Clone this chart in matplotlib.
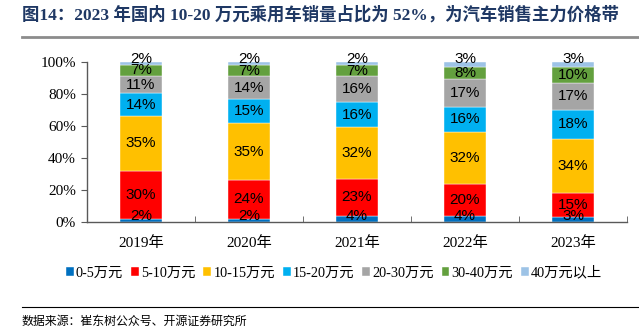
import matplotlib
matplotlib.use("Agg")
import matplotlib.pyplot as plt
import numpy as np

years = ["2019年", "2020年", "2021年", "2022年", "2023年"]
segments = ["0-5万元", "5-10万元", "10-15万元", "15-20万元", "20-30万元", "30-40万元", "40万元以上"]
share_0_5 = [2, 2, 4, 4, 3]
share_5_10 = [30, 24, 23, 20, 15]
share_10_15 = [35, 35, 32, 32, 34]
share_15_20 = [14, 15, 16, 16, 18]
share_20_30 = [11, 14, 16, 17, 17]
share_30_40 = [7, 7, 7, 8, 10]
share_40_up = [2, 2, 2, 3, 3]

colors = ["#0070C0", "#FF0000", "#FFC000", "#00B0F0", "#A5A5A5", "#63A03E", "#9DC3E6"]

serif = ["Liberation Serif", "Noto Sans CJK SC"]

data = np.array([share_0_5, share_5_10, share_10_15, share_15_20,
                 share_20_30, share_30_40, share_40_up], dtype=float)
# bars are drawn as a 100% stack
heights = data / data.sum(axis=0) * 100

fig = plt.figure(figsize=(6.39, 3.32), dpi=100)
ax = fig.add_axes([87 / 639, 1 - 222 / 332, 540 / 639, 160.3 / 332])

x = np.arange(len(years))
bottom = np.zeros(len(years))
handles = []
n = len(segments)
for i, seg in enumerate(segments):
    b = ax.bar(x, heights[i], 0.39, bottom=bottom, color=colors[i],
               edgecolor="white", linewidth=0.3, label=seg, zorder=2)
    handles.append(b)
    for j in range(len(years)):
        cy = bottom[j] + heights[i][j] / 2
        if i == 0:
            cy = max(cy, 4.0)
        if i == n - 1:
            cy = max(cy, 101.5)
        ax.text(x[j], cy, f"{int(data[i][j])}%", ha="center", va="center",
                fontsize=11, family="Liberation Sans", color="black",
                clip_on=False, zorder=3)
    bottom += heights[i]

ax.set_xlim(-0.5, len(years) - 0.5)
ax.set_ylim(0, 100)
ax.set_yticks(np.arange(0, 101, 20))
ax.set_yticklabels([f"{v}%" for v in range(0, 101, 20)])
ax.set_xticks(x)
ax.set_xticklabels(years)
ax.set_xticks(np.arange(-0.5, len(years), 1), minor=True)
ax.tick_params(axis="x", which="major", length=0, pad=10)
ax.tick_params(axis="x", which="minor", direction="in", length=4, color="#595959")
ax.tick_params(axis="y", direction="out", length=4, color="#595959", pad=4)
for lab in ax.get_xticklabels() + ax.get_yticklabels():
    lab.set_fontfamily(serif)
    lab.set_fontsize(11)

for s in ["top", "right"]:
    ax.spines[s].set_visible(False)
for s in ["left", "bottom"]:
    ax.spines[s].set_color("#595959")
    ax.spines[s].set_linewidth(1.0)

leg = fig.legend(handles=handles, labels=segments, loc="center",
                 bbox_to_anchor=(334 / 639, 1 - 273 / 332), ncol=7, frameon=False,
                 handlelength=0.55, handleheight=0.55, handletextpad=0.15,
                 columnspacing=0.55, prop={"family": serif, "size": 10.3})

fig.text(22 / 639, 1 - 15 / 332,
         "图14：2023 年国内 10-20 万元乘用车销量占比为 52%，为汽车销售主力价格带",
         family=serif, fontsize=12.5, fontweight="bold", color="#1F3864",
         ha="left", va="center")
fig.add_artist(plt.Line2D([22 / 639, 1], [1 - 37 / 332, 1 - 37 / 332],
                          color="#8C8C8C", linewidth=2))
fig.add_artist(plt.Line2D([22 / 639, 1], [1 - 307 / 332, 1 - 307 / 332],
                          color="black", linewidth=0.8))
fig.text(22 / 639, 1 - 322 / 332, "数据来源：崔东树公众号、开源证券研究所",
         family=serif, fontsize=8.6, color="black", ha="left", va="center")

fig.savefig("out.png", dpi=100)
